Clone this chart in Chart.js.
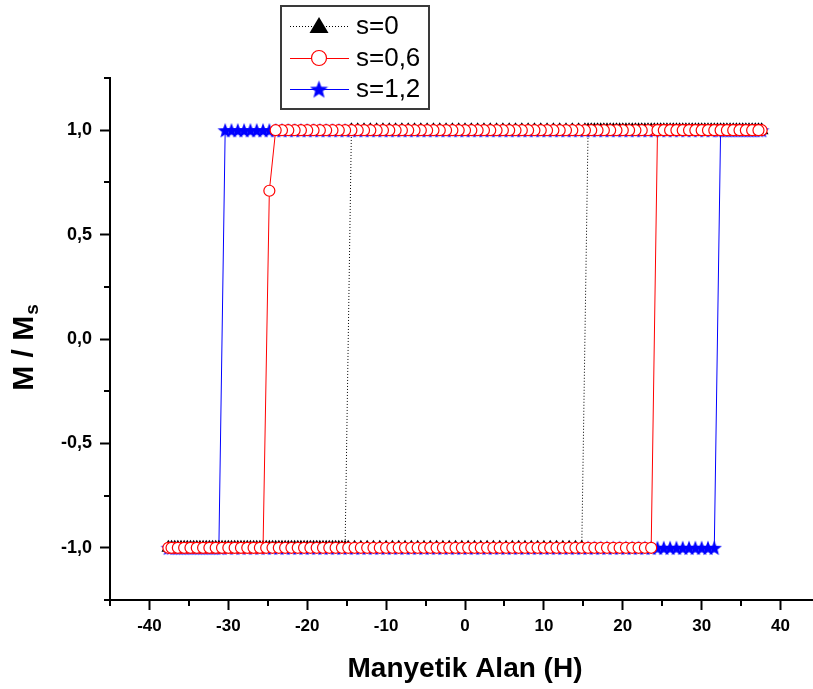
<!DOCTYPE html>
<html>
<head>
<meta charset="utf-8">
<script src="https://cdn.jsdelivr.net/npm/chart.js@4.4.1/dist/chart.umd.min.js"></script>
<style>
html, body { margin: 0; padding: 0; background: #fff; overflow: hidden; }
#wrap { width: 830px; height: 689px; }
</style>
</head>
<body>
<div id="wrap"><canvas id="hysteresisChart" width="830" height="689"></canvas></div>
<script>
// field values (H): falling branch, then rising branch
var hDown = [
    37.6, 36.8, 36.0, 35.2, 34.4, 33.6, 32.8, 32.0, 31.2, 30.4,
    29.6, 28.8, 28.0, 27.2, 26.4, 25.6, 24.8, 24.0, 23.2, 22.4,
    21.6, 20.8, 20.0, 19.2, 18.4, 17.6, 16.8, 16.0, 15.2, 14.4,
    13.6, 12.8, 12.0, 11.2, 10.4, 9.6, 8.8, 8.0, 7.2, 6.4,
    5.6, 4.8, 4.0, 3.2, 2.4, 1.6, 0.8, 0.0, -0.8, -1.6,
    -2.4, -3.2, -4.0, -4.8, -5.6, -6.4, -7.2, -8.0, -8.8, -9.6,
    -10.4, -11.2, -12.0, -12.8, -13.6, -14.4, -15.2, -16.0, -16.8, -17.6,
    -18.4, -19.2, -20.0, -20.8, -21.6, -22.4, -23.2, -24.0, -24.8, -25.6,
    -26.4, -27.2, -28.0, -28.8, -29.6, -30.4, -31.2, -32.0, -32.8, -33.6,
    -34.4, -35.2, -36.0, -36.8, -37.6
];
var hUp = [
    -37.2, -36.4, -35.6, -34.8, -34.0, -33.2, -32.4, -31.6, -30.8, -30.0,
    -29.2, -28.4, -27.6, -26.8, -26.0, -25.2, -24.4, -23.6, -22.8, -22.0,
    -21.2, -20.4, -19.6, -18.8, -18.0, -17.2, -16.4, -15.6, -14.8, -14.0,
    -13.2, -12.4, -11.6, -10.8, -10.0, -9.2, -8.4, -7.6, -6.8, -6.0,
    -5.2, -4.4, -3.6, -2.8, -2.0, -1.2, -0.4, 0.4, 1.2, 2.0,
    2.8, 3.6, 4.4, 5.2, 6.0, 6.8, 7.6, 8.4, 9.2, 10.0,
    10.8, 11.6, 12.4, 13.2, 14.0, 14.8, 15.6, 16.4, 17.2, 18.0,
    18.8, 19.6, 20.4, 21.2, 22.0, 22.8, 23.6, 24.4, 25.2, 26.0,
    26.8, 27.6, 28.4, 29.2, 30.0, 30.8, 31.6, 32.4, 33.2, 34.0,
    34.8, 35.6, 36.4, 37.2
];

// M / Ms, s=0
var mDownS0 = [
    1, 1, 1, 1, 1, 1, 1, 1, 1, 1,
    1, 1, 1, 1, 1, 1, 1, 1, 1, 1,
    1, 1, 1, 1, 1, 1, 1, 1, 1, 1,
    1, 1, 1, 1, 1, 1, 1, 1, 1, 1,
    1, 1, 1, 1, 1, 1, 1, 1, 1, 1,
    1, 1, 1, 1, 1, 1, 1, 1, 1, 1,
    1, 1, 1, 1, 1, 1, -1, -1, -1, -1,
    -1, -1, -1, -1, -1, -1, -1, -1, -1, -1,
    -1, -1, -1, -1, -1, -1, -1, -1, -1, -1,
    -1, -1, -1, -1, -1
];
var mUpS0 = [
    -1, -1, -1, -1, -1, -1, -1, -1, -1, -1,
    -1, -1, -1, -1, -1, -1, -1, -1, -1, -1,
    -1, -1, -1, -1, -1, -1, -1, -1, -1, -1,
    -1, -1, -1, -1, -1, -1, -1, -1, -1, -1,
    -1, -1, -1, -1, -1, -1, -1, -1, -1, -1,
    -1, -1, -1, -1, -1, -1, -1, -1, -1, -1,
    -1, -1, -1, -1, -1, -1, 1, 1, 1, 1,
    1, 1, 1, 1, 1, 1, 1, 1, 1, 1,
    1, 1, 1, 1, 1, 1, 1, 1, 1, 1,
    1, 1, 1, 1
];

// s=0,6
var mDownS06 = [
    1, 1, 1, 1, 1, 1, 1, 1, 1, 1,
    1, 1, 1, 1, 1, 1, 1, 1, 1, 1,
    1, 1, 1, 1, 1, 1, 1, 1, 1, 1,
    1, 1, 1, 1, 1, 1, 1, 1, 1, 1,
    1, 1, 1, 1, 1, 1, 1, 1, 1, 1,
    1, 1, 1, 1, 1, 1, 1, 1, 1, 1,
    1, 1, 1, 1, 1, 1, 1, 1, 1, 1,
    1, 1, 1, 1, 1, 1, 1, 1, 0.71, -1,
    -1, -1, -1, -1, -1, -1, -1, -1, -1, -1,
    -1, -1, -1, -1, -1
];
var mUpS06 = [
    -1, -1, -1, -1, -1, -1, -1, -1, -1, -1,
    -1, -1, -1, -1, -1, -1, -1, -1, -1, -1,
    -1, -1, -1, -1, -1, -1, -1, -1, -1, -1,
    -1, -1, -1, -1, -1, -1, -1, -1, -1, -1,
    -1, -1, -1, -1, -1, -1, -1, -1, -1, -1,
    -1, -1, -1, -1, -1, -1, -1, -1, -1, -1,
    -1, -1, -1, -1, -1, -1, -1, -1, -1, -1,
    -1, -1, -1, -1, -1, -1, -1, 1, 1, 1,
    1, 1, 1, 1, 1, 1, 1, 1, 1, 1,
    1, 1, 1, 1
];

// s=1,2
var mDownS12 = [
    1, 1, 1, 1, 1, 1, 1, 1, 1, 1,
    1, 1, 1, 1, 1, 1, 1, 1, 1, 1,
    1, 1, 1, 1, 1, 1, 1, 1, 1, 1,
    1, 1, 1, 1, 1, 1, 1, 1, 1, 1,
    1, 1, 1, 1, 1, 1, 1, 1, 1, 1,
    1, 1, 1, 1, 1, 1, 1, 1, 1, 1,
    1, 1, 1, 1, 1, 1, 1, 1, 1, 1,
    1, 1, 1, 1, 1, 1, 1, 1, 1, 1,
    1, 1, 1, 1, 1, 1, -1, -1, -1, -1,
    -1, -1, -1, -1, -1
];
var mUpS12 = [
    -1, -1, -1, -1, -1, -1, -1, -1, -1, -1,
    -1, -1, -1, -1, -1, -1, -1, -1, -1, -1,
    -1, -1, -1, -1, -1, -1, -1, -1, -1, -1,
    -1, -1, -1, -1, -1, -1, -1, -1, -1, -1,
    -1, -1, -1, -1, -1, -1, -1, -1, -1, -1,
    -1, -1, -1, -1, -1, -1, -1, -1, -1, -1,
    -1, -1, -1, -1, -1, -1, -1, -1, -1, -1,
    -1, -1, -1, -1, -1, -1, -1, -1, -1, -1,
    -1, -1, -1, -1, -1, -1, -1, 1, 1, 1,
    1, 1, 1, 1
];

var seriesLabels = ['s=0', 's=0,6', 's=1,2'];
var xTickValues = [-40, -30, -20, -10, 0, 10, 20, 30, 40];
var xMinorValues = [-45, -35, -25, -15, -5, 5, 15, 25, 35, 45];
var yTickValues = [-1.0, -0.5, 0.0, 0.5, 1.0];
var yMinorValues = [-1.25, -0.75, -0.25, 0.25, 0.75, 1.25];

var FONT = '"Liberation Sans", Arial, Helvetica, sans-serif';

// falling branch followed by rising branch
function loopPoints(mDown, mUp) {
    var down = hDown.map(function (h, i) { return { x: h, y: mDown[i] }; });
    var up = hUp.map(function (h, i) { return { x: h, y: mUp[i] }; });
    return down.concat(up);
}

function starPath(c, cx, cy, outer, inner) {
    c.beginPath();
    for (var i = 0; i < 10; i++) {
        var r = i % 2 === 0 ? outer : inner;
        var a = -Math.PI / 2 + i * Math.PI / 5;
        var px = cx + r * Math.cos(a), py = cy + r * Math.sin(a);
        if (i === 0) c.moveTo(px, py); else c.lineTo(px, py);
    }
    c.closePath();
}

// filled five point star used as point style
function makeStar(size, color) {
    var cv = document.createElement('canvas');
    cv.width = size; cv.height = size;
    var c = cv.getContext('2d');
    c.fillStyle = color;
    starPath(c, size / 2, size / 2 + size * 0.05, size / 2, size * 0.21);
    c.fill();
    return cv;
}

var plotStar = makeStar(16, '#0000ff');
var legendStar = makeStar(19, '#0000ff');

// shorter ticks halfway between the labelled ones
var minorTicks = {
    id: 'minorTicks',
    afterDraw: function (chart) {
        var c = chart.ctx, area = chart.chartArea;
        var xs = chart.scales.x, ys = chart.scales.y;
        c.save();
        c.strokeStyle = '#000';
        c.lineWidth = 2;
        xMinorValues.forEach(function (v) {
            var px = Math.round(xs.getPixelForValue(v));
            c.beginPath(); c.moveTo(px, area.bottom); c.lineTo(px, area.bottom + 6); c.stroke();
        });
        yMinorValues.forEach(function (v) {
            var py = Math.round(ys.getPixelForValue(v));
            c.beginPath(); c.moveTo(area.left, py); c.lineTo(area.left - 6, py); c.stroke();
        });
        c.restore();
    }
};

// y title with subscript and boxed legend
var extras = {
    id: 'extras',
    afterDraw: function (chart) {
        var c = chart.ctx;
        c.save();
        c.fillStyle = '#000';
        c.translate(25, 348);
        c.rotate(-Math.PI / 2);
        c.textBaseline = 'middle';
        c.textAlign = 'left';
        c.font = 'bold 30px ' + FONT;
        var wMain = c.measureText('M / M').width;
        c.font = 'bold 19px ' + FONT;
        var wSub = c.measureText('s').width;
        var start = -(wMain + wSub) / 2;
        c.font = 'bold 30px ' + FONT;
        c.fillText('M / M', start, 0);
        c.font = 'bold 19px ' + FONT;
        c.fillText('s', start + wMain + 1, 8);
        c.restore();

        // legend
        c.save();
        c.strokeStyle = '#3a3a3a';
        c.lineWidth = 2;
        c.strokeRect(281, 6, 148, 103);
        var rows = [26, 58, 89];
        var ds = chart.data.datasets;
        rows.forEach(function (y, i) {
            c.save();
            c.strokeStyle = ds[i].borderColor;
            c.lineWidth = 1;
            c.setLineDash(ds[i].borderDash || []);
            c.beginPath(); c.moveTo(290, y + 0.5); c.lineTo(349, y + 0.5); c.stroke();
            c.restore();
            if (i === 0) {
                c.fillStyle = '#000';
                c.beginPath(); c.moveTo(319, y - 9); c.lineTo(328.5, y + 7); c.lineTo(309.5, y + 7); c.closePath(); c.fill();
            } else if (i === 1) {
                c.fillStyle = '#fff';
                c.strokeStyle = '#ff0000';
                c.lineWidth = 1.2;
                c.beginPath(); c.arc(319, y, 7.5, 0, Math.PI * 2); c.fill(); c.stroke();
            } else {
                c.drawImage(legendStar, 319 - 9.5, y - 9.5);
            }
            c.fillStyle = '#000';
            c.font = '26px ' + FONT;
            c.textBaseline = 'middle';
            c.textAlign = 'left';
            c.fillText(seriesLabels[i], 356, y + 1);
        });
        c.restore();
    }
};

var ctx = document.getElementById('hysteresisChart').getContext('2d');
var chart = new Chart(ctx, {
    type: 'line',
    data: {
        datasets: [
            {
                label: seriesLabels[0],
                data: loopPoints(mDownS0, mUpS0),
                borderColor: '#000000',
                borderWidth: 1,
                borderDash: [1, 2],
                pointStyle: 'triangle',
                pointRadius: 8,
                pointBackgroundColor: '#000000',
                pointBorderColor: '#000000',
                pointBorderWidth: 0,
                order: 1
            },
            {
                label: seriesLabels[1],
                data: loopPoints(mDownS06, mUpS06),
                borderColor: '#ff0000',
                borderWidth: 1,
                pointStyle: 'circle',
                pointRadius: 5.5,
                pointBackgroundColor: '#ffffff',
                pointBorderColor: '#ff0000',
                pointBorderWidth: 1.2,
                order: 0
            },
            {
                label: seriesLabels[2],
                data: loopPoints(mDownS12, mUpS12),
                borderColor: '#0000ff',
                borderWidth: 1,
                pointStyle: plotStar,
                pointRadius: 8,
                order: 2
            }
        ]
    },
    options: {
        responsive: false,
        animation: false,
        devicePixelRatio: 1,
        layout: { padding: { top: 78, right: 10, left: 0, bottom: 0 } },
        elements: { line: { tension: 0, fill: false } },
        plugins: { legend: { display: false }, tooltip: { enabled: false } },
        scales: {
            x: {
                type: 'linear',
                min: -45,
                max: 45,
                afterBuildTicks: function (scale) {
                    scale.ticks = xTickValues.map(function (v) { return { value: v }; });
                },
                afterFit: function (scale) { scale.height = 89; },
                grid: { drawOnChartArea: false, drawTicks: true, tickLength: 10, tickWidth: 2, tickColor: '#000' },
                border: { display: true, color: '#000', width: 2 },
                ticks: {
                    color: '#000',
                    autoSkip: false,
                    maxRotation: 0,
                    padding: 6,
                    font: { family: FONT, size: 17, weight: 'bold' },
                    callback: function (v) { return String(v); }
                },
                title: {
                    display: true,
                    text: 'Manyetik Alan (H)',
                    color: '#000',
                    font: { family: FONT, size: 28, weight: 'bold' },
                    padding: { top: 0, bottom: 3 }
                }
            },
            y: {
                min: -1.25,
                max: 1.25,
                afterBuildTicks: function (scale) {
                    scale.ticks = yTickValues.map(function (v) { return { value: v }; });
                },
                afterFit: function (scale) { scale.width = 110; },
                grid: { drawOnChartArea: false, drawTicks: true, tickLength: 10, tickWidth: 2, tickColor: '#000' },
                border: { display: true, color: '#000', width: 2 },
                ticks: {
                    color: '#000',
                    autoSkip: false,
                    padding: 8,
                    font: { family: FONT, size: 18, weight: 'bold' },
                    callback: function (v) { return v.toFixed(1).replace('.', ','); }
                },
                title: { display: false }
            }
        }
    },
    plugins: [minorTicks, extras]
});
</script>
</body>
</html>
